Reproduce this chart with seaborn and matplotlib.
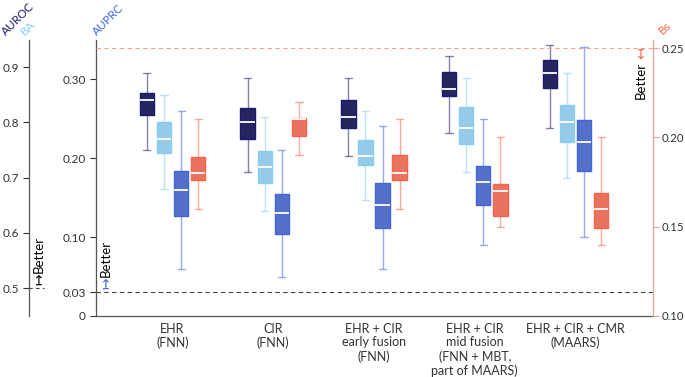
import matplotlib
matplotlib.use("Agg")
import matplotlib.pyplot as plt
import seaborn as sns
import pandas as pd

# model groups (x categories)
models = ["EHR\n(FNN)", "CIR\n(FNN)", "EHR + CIR\nearly fusion\n(FNN)",
          "EHR + CIR\nmid fusion\n(FNN + MBT,\npart of MAARS)",
          "EHR + CIR + CMR\n(MAARS)"]
metrics = ["AUROC", "BA", "AUPRC", "Bs"]

# five-number summaries per model: min, q1, median, q3, max
auroc = [[0.750, 0.813, 0.840, 0.854, 0.890],
         [0.710, 0.770, 0.800, 0.826, 0.880],
         [0.740, 0.790, 0.810, 0.841, 0.880],
         [0.780, 0.847, 0.860, 0.891, 0.920],
         [0.789, 0.862, 0.890, 0.913, 0.940]]
ba = [[0.679, 0.744, 0.770, 0.800, 0.850],
      [0.640, 0.691, 0.720, 0.748, 0.810],
      [0.659, 0.722, 0.740, 0.769, 0.820],
      [0.710, 0.761, 0.790, 0.828, 0.880],
      [0.700, 0.765, 0.800, 0.832, 0.890]]
auprc = [[0.060, 0.127, 0.160, 0.183, 0.260],
         [0.050, 0.104, 0.130, 0.154, 0.210],
         [0.060, 0.111, 0.141, 0.169, 0.240],
         [0.090, 0.140, 0.170, 0.190, 0.250],
         [0.100, 0.184, 0.220, 0.248, 0.340]]
bs = [[0.160, 0.176, 0.180, 0.189, 0.210],
      [0.190, 0.201, 0.210, 0.211, 0.220],
      [0.160, 0.176, 0.180, 0.190, 0.210],
      [0.150, 0.156, 0.170, 0.174, 0.200],
      [0.140, 0.149, 0.160, 0.169, 0.200]]

auroc_ticks = [0.5, 0.6, 0.7, 0.8, 0.9]
auprc_ticks = [0, 0.03, 0.10, 0.20, 0.30]
auprc_labels = ["0", "0.03", "0.10", "0.20", "0.30"]
bs_ticks = [0.10, 0.15, 0.20, 0.25]

colors = {"AUROC": "#1b1b6b", "BA": "#87cdf7", "AUPRC": "#4066dd", "Bs": "#ff6347"}

rows = []
for name, vals in zip(metrics, [auroc, ba, auprc, bs]):
    for m, v in zip(models, vals):
        for x in v:
            rows.append((m, name, x))
df = pd.DataFrame(rows, columns=["model", "metric", "value"])

sns.set_style("ticks")
plt.rcParams["font.family"] = ["Lato", "DejaVu Sans"]
plt.rcParams["text.color"] = "#333333"

fig = plt.figure(figsize=(6.85, 3.77), dpi=100)
ax = fig.add_axes([96 / 685, 1 - 316 / 377, 557 / 685, 276 / 377])
ax_roc = ax.twinx()
ax_bs = ax.twinx()


def draw(axis, metric):
    sns.boxplot(data=df[df.metric == metric], x="model", y="value", hue="metric",
                order=models, hue_order=metrics, palette=colors, dodge=True,
                width=0.68, gap=0.16, whis=(0, 100), showfliers=False,
                linecolor=colors[metric], linewidth=1, legend=False,
                medianprops=dict(color="white", linewidth=1.3),
                whiskerprops=dict(alpha=0.55), capprops=dict(alpha=0.55),
                ax=axis)
    axis.set_xlabel("")
    axis.set_ylabel("")


draw(ax_roc, "AUROC")
draw(ax_roc, "BA")
draw(ax, "AUPRC")
draw(ax_bs, "Bs")

ax.set_xlim(-0.76, 4.77)
ax.set_ylim(0, 0.3494)
ax_roc.set_ylim(0.4493, 0.9493)
ax_bs.set_ylim(0.10, 0.2545)

# reference lines
ax.axhline(0.03, color="#444444", ls=(0, (4, 3)), lw=0.8, zorder=0)
ax_bs.axhline(0.25, color="#f4a394", ls=(0, (4, 3)), lw=0.8, zorder=0)
ax_roc.plot([-0.12, -0.093], [0.5, 0.5], transform=ax_roc.get_yaxis_transform(),
            color="#444444", ls=(0, (3, 3)), lw=0.8, clip_on=False)

# main axis (AUPRC)
ax.set_yticks(auprc_ticks, auprc_labels)
ax.tick_params(axis="x", length=0, pad=5, labelsize=9, colors="#333333")
ax.tick_params(axis="y", length=4, width=0.8, labelsize=8.5, colors="#333333")
for lab in ax.get_xticklabels():
    lab.set_linespacing(1.15)
    lab.set_verticalalignment("top")
for s in ["top", "right"]:
    ax.spines[s].set_visible(False)
for s in ["left", "bottom"]:
    ax.spines[s].set_color("#555555")
    ax.spines[s].set_linewidth(0.9)

# AUROC / BA axis on the far left
ax_roc.yaxis.tick_left()
ax_roc.spines["left"].set_position(("axes", -0.12))
ax_roc.spines["left"].set_visible(True)
ax_roc.spines["left"].set_color("#555555")
ax_roc.spines["left"].set_linewidth(0.9)
for s in ["top", "right", "bottom"]:
    ax_roc.spines[s].set_visible(False)
ax_roc.set_yticks(auroc_ticks, [f"{t:.1f}" for t in auroc_ticks])
ax_roc.tick_params(axis="y", length=4, width=0.8, labelsize=8.5, colors="#333333")

# Bs axis on the right
for s in ["top", "left", "bottom"]:
    ax_bs.spines[s].set_visible(False)
ax_bs.spines["right"].set_color("#e8a497")
ax_bs.spines["right"].set_linewidth(0.9)
ax_bs.set_yticks(bs_ticks, [f"{t:.2f}" for t in bs_ticks])
ax_bs.tick_params(axis="y", length=4, width=0.8, pad=2.5, labelsize=8.2,
                  colors="#333333")
ax_bs.tick_params(axis="y", color="#e8a497")


def px(x, y):
    return x / 685, 1 - y / 377


# metric names
fig.text(*px(18, 19), "AUROC", rotation=45, ha="center", va="center",
         color=colors["AUROC"], fontsize=8.5)
fig.text(*px(28, 28), "BA", rotation=45, ha="center", va="center",
         color=colors["BA"], fontsize=8.5)
fig.text(*px(108, 20), "AUPRC", rotation=45, ha="center", va="center",
         color=colors["AUPRC"], fontsize=8.5)
fig.text(*px(665, 28), "Bs", rotation=45, ha="center", va="center",
         color=colors["Bs"], fontsize=8.5)

# "Better" hints
fig.text(*px(39, 285), "\u21a6", rotation=90, ha="center", va="bottom",
         color="black", fontsize=10, family="DejaVu Sans")
fig.text(*px(39, 273), "Better", rotation=90, ha="center", va="bottom",
         color="black", fontsize=9.5)
fig.text(*px(106, 289), "\u21a6", rotation=90, ha="center", va="bottom",
         color=colors["AUPRC"], fontsize=10, family="DejaVu Sans")
fig.text(*px(106, 277), "Better", rotation=90, ha="center", va="bottom",
         color="black", fontsize=9.5)
fig.text(*px(641, 99), "Better", rotation=90, ha="center", va="bottom",
         color="black", fontsize=9.5)
fig.text(*px(641, 59), "\u21a4", rotation=90, ha="center", va="bottom",
         color=colors["Bs"], fontsize=10, family="DejaVu Sans")

fig.savefig("out.png", dpi=100)
